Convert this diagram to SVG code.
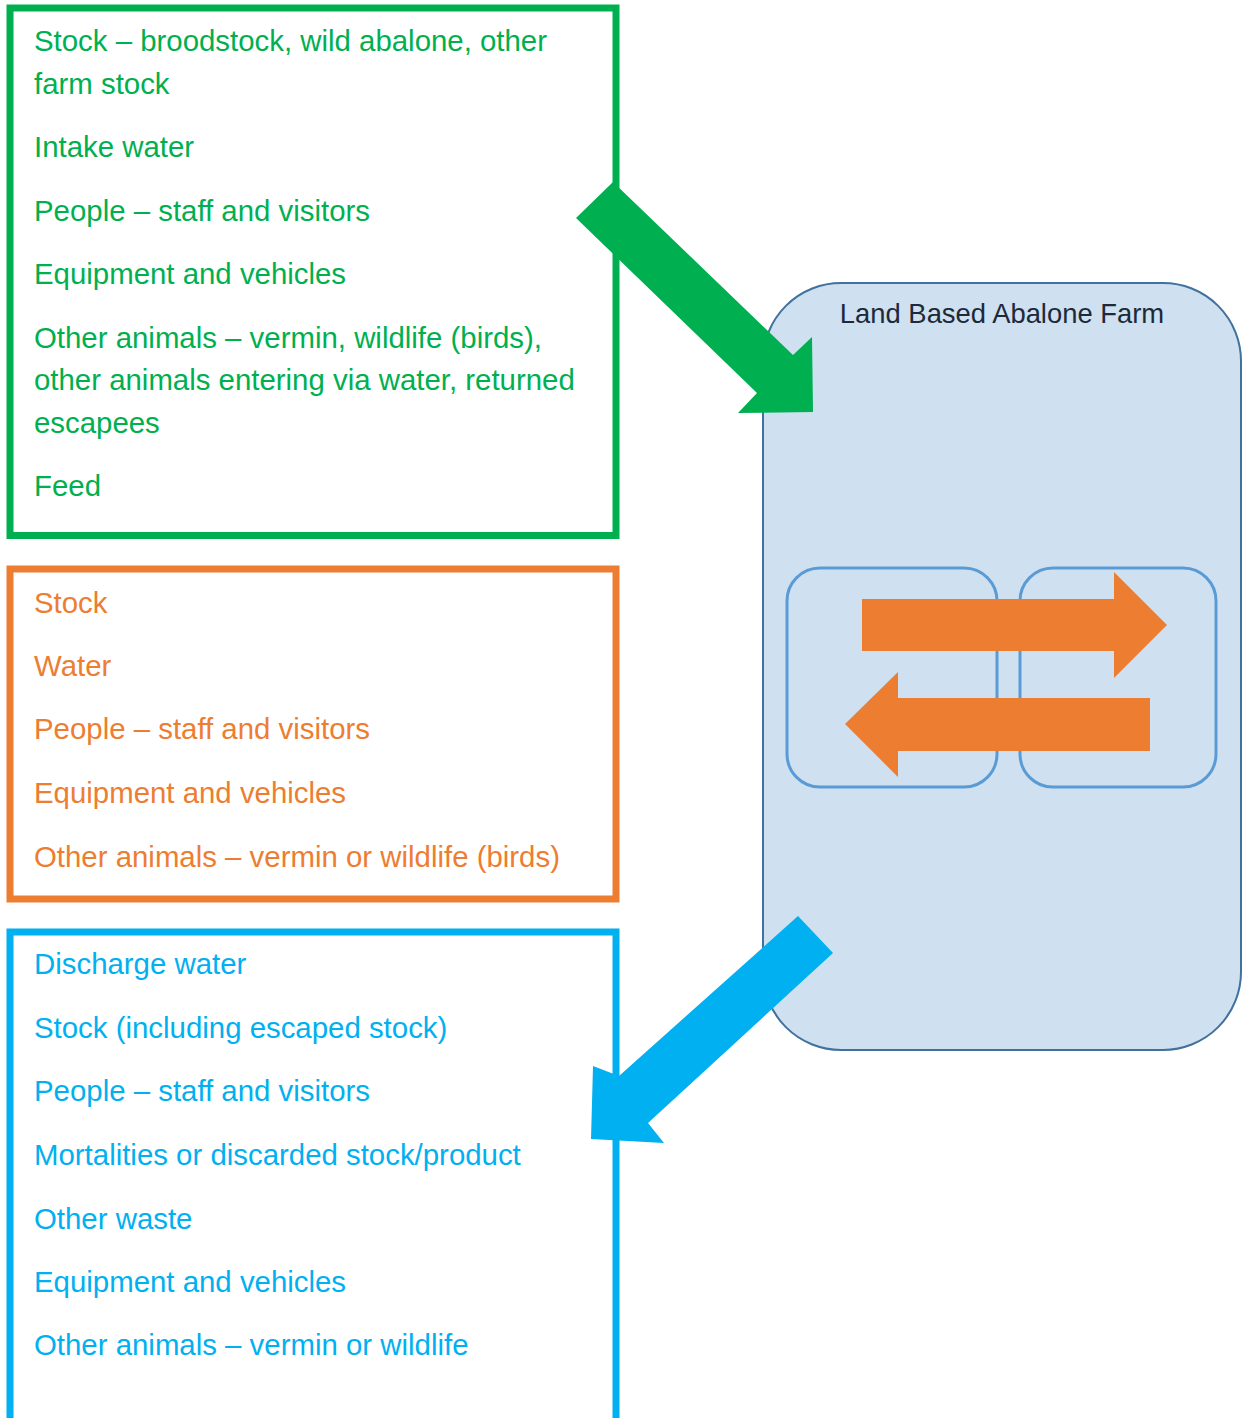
<svg xmlns="http://www.w3.org/2000/svg" width="1243" height="1418" viewBox="0 0 1243 1418">
<style>
.t{font-family:"Liberation Sans",Arial,sans-serif;font-size:29.4px}
.g{fill:#00B050}.o{fill:#ED7D31}.b{fill:#00B0F0}
.box{fill:#FFFFFF;stroke-width:7}
.inner{fill:none;stroke:#5B9BD5;stroke-width:3}
</style>
<rect width="1243" height="1418" fill="#FFFFFF"/>
<g id="inputs">
<rect class="box" x="10" y="8" width="606" height="527.5" stroke="#00B050"/>
<text class="t g" x="34" y="51">Stock – broodstock, wild abalone, other</text>
<text class="t g" x="34" y="94">farm stock</text>
<text class="t g" x="34" y="157">Intake water</text>
<text class="t g" x="34" y="221">People – staff and visitors</text>
<text class="t g" x="34" y="284">Equipment and vehicles</text>
<text class="t g" x="34" y="348">Other animals – vermin, wildlife (birds),</text>
<text class="t g" x="34" y="390">other animals entering via water, returned</text>
<text class="t g" x="34" y="433">escapees</text>
<text class="t g" x="34" y="496">Feed</text>
</g>
<g id="internal">
<rect class="box" x="10" y="569" width="606" height="330" stroke="#ED7D31"/>
<text class="t o" x="34" y="613">Stock</text>
<text class="t o" x="34" y="676">Water</text>
<text class="t o" x="34" y="739">People – staff and visitors</text>
<text class="t o" x="34" y="803">Equipment and vehicles</text>
<text class="t o" x="34" y="867">Other animals – vermin or wildlife (birds)</text>
</g>
<g id="outputs">
<rect class="box" x="10" y="932" width="606" height="600" stroke="#00B0F0"/>
<text class="t b" x="34" y="974">Discharge water</text>
<text class="t b" x="34" y="1038">Stock (including escaped stock)</text>
<text class="t b" x="34" y="1101">People – staff and visitors</text>
<text class="t b" x="34" y="1165">Mortalities or discarded stock/product</text>
<text class="t b" x="34" y="1229">Other waste</text>
<text class="t b" x="34" y="1292">Equipment and vehicles</text>
<text class="t b" x="34" y="1355">Other animals – vermin or wildlife</text>
</g>
<g id="farm">
<rect x="763" y="283" width="478" height="767" rx="78" ry="78" fill="#CFE0F1" stroke="#41719C" stroke-width="2"/>
<text x="1002" y="323" text-anchor="middle" font-family="'Liberation Sans',Arial,sans-serif" font-size="27.4" fill="#1C2A3A">Land Based Abalone Farm</text>
<rect id="unit-a" class="inner" x="787" y="568" width="210" height="219" rx="33" ry="33"/>
<rect id="unit-b" class="inner" x="1020" y="568" width="196" height="219" rx="33" ry="33"/>
</g>
<g id="connectors">
<polygon fill="#00B050" points="613,182 793,355 812,337 813,412 738,413 757,393 576,218"/>
<polygon fill="#00B0F0" points="798,916 619,1076 593,1066 591,1139 664,1143 648,1123 833,953"/>
<polygon fill="#ED7D31" points="862,599 1114,599 1114,572 1167,625 1114,678 1114,651 862,651"/>
<polygon fill="#ED7D31" points="1150,698 898,698 898,672 845,724 898,777 898,751 1150,751"/>
</g>
</svg>
